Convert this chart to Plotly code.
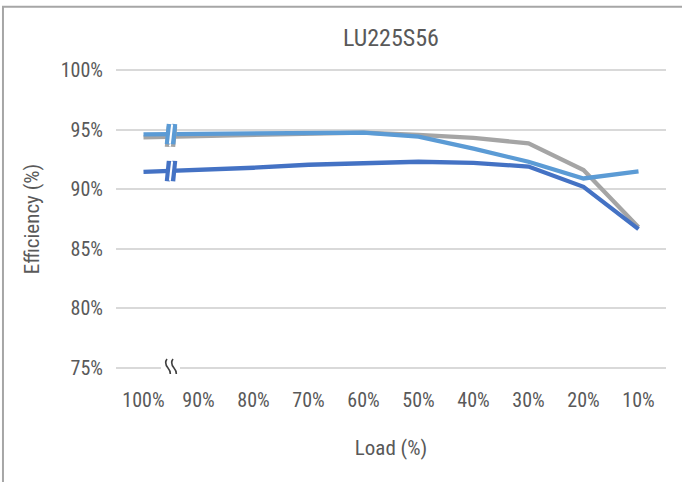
import plotly.graph_objects as go

loads = ["100%", "90%", "80%", "70%", "60%", "50%", "40%", "30%", "20%", "10%"]
gray_eff = [94.35, 94.45, 94.55, 94.7, 94.75, 94.55, 94.3, 93.85, 91.6, 86.8]
light_eff = [94.6, 94.65, 94.7, 94.75, 94.75, 94.4, 93.4, 92.3, 90.9, 91.5]
dark_eff = [91.45, 91.6, 91.8, 92.05, 92.2, 92.3, 92.2, 91.9, 90.2, 86.65]
y_ticks = [75, 80, 85, 90, 95, 100]
y_tick_text = ["75%", "80%", "85%", "90%", "95%", "100%"]

FONT = "Roboto Condensed, Liberation Sans Narrow, Roboto"
TXT = "#595959"

series = [
    ("gray", gray_eff, "#A5A5A5"),
    ("light", light_eff, "#5B9BD5"),
    ("dark", dark_eff, "#4472C4"),
]

fig = go.Figure()
for name, vals, col in series:
    fig.add_trace(go.Scatter(
        x=list(range(len(loads))), y=vals, mode="lines", name=name,
        line=dict(color=col, width=4.3), showlegend=False, hoverinfo="skip"))

shapes = []
# break markers on the lines, between the first two categories
for name, vals, col in series:
    yb = (vals[0] + vals[1]) / 2
    for dx in (-0.05, 0.05):
        shapes.append(dict(type="line", xref="x", yref="y",
                           x0=0.5 + dx - 0.018, x1=0.5 + dx + 0.018,
                           y0=yb - 0.85, y1=yb + 0.85,
                           line=dict(color=col, width=5)))
    shapes.append(dict(type="line", xref="x", yref="y",
                       x0=0.5 - 0.02, x1=0.5 + 0.02,
                       y0=yb - 0.8, y1=yb + 0.8,
                       line=dict(color="white", width=2)))

# axis break squiggle on the 75% gridline
y_break = y_ticks[0]
shapes.append(dict(type="rect", xref="x", yref="y", xsizemode="pixel", ysizemode="pixel",
                   xanchor=0.5, yanchor=y_break, x0=-10, x1=9, y0=-3, y1=3,
                   fillcolor="white", line=dict(width=0)))
for off in (-3, 3):
    shapes.append(dict(type="path", xref="x", yref="y", xsizemode="pixel", ysizemode="pixel",
                       xanchor=0.5, yanchor=y_break,
                       path=f"M {off-1},9 Q {off-4},5 {off},0 Q {off+4},-5 {off+1},-9",
                       line=dict(color="#404040", width=1.6)))

# outer border
shapes.append(dict(type="rect", xref="paper", yref="paper",
                   x0=-0.2055, x1=1.1, y0=-0.5, y1=1.185,
                   line=dict(color="#A6A6A6", width=2), layer="below"))

fig.update_layout(
    width=682, height=482,
    margin=dict(l=116, r=16, t=64, b=108),
    paper_bgcolor="white", plot_bgcolor="white",
    title=dict(text="LU225S56", x=0.5, xref="paper", y=0.922, yref="container",
               xanchor="center", yanchor="middle",
               font=dict(family=FONT, size=24, color=TXT)),
    font=dict(family=FONT, color=TXT),
    shapes=shapes,
)
fig.update_xaxes(
    tickmode="array", tickvals=list(range(len(loads))), ticktext=loads,
    range=[-0.5, 9.5], showgrid=False, zeroline=False, showline=False,
    ticks="outside", ticklen=8, tickcolor="rgba(0,0,0,0)",
    tickfont=dict(family=FONT, size=20, color=TXT),
    title=dict(text="Load (%)", font=dict(family=FONT, size=21, color=TXT), standoff=29),
)
fig.update_yaxes(
    tickmode="array", tickvals=y_ticks, ticktext=y_tick_text,
    range=[74.5, 100.5], showgrid=True, gridcolor="#D9D9D9", gridwidth=1.5,
    zeroline=False, showline=False,
    ticks="outside", ticklen=8, tickcolor="rgba(0,0,0,0)",
    tickfont=dict(family=FONT, size=20, color=TXT),
    title=dict(text="Efficiency (%)", font=dict(family=FONT, size=21, color=TXT), standoff=15),
)
fig.write_html("out.html", config={"displayModeBar": False},
               post_script="document.body.style.margin='0';")
